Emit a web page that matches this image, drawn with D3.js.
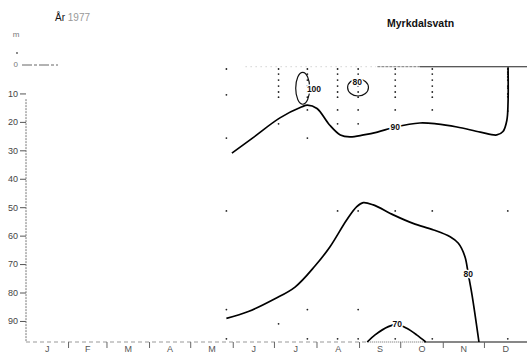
<!DOCTYPE html>
<html><head><meta charset="utf-8">
<script src="https://cdn.jsdelivr.net/npm/d3@7"></script>
<style>
html,body{margin:0;padding:0;background:#fff;}
svg{display:block;}
text{font-family:"Liberation Sans","DejaVu Sans",sans-serif;}
</style></head>
<body>
<svg id="chart" width="527" height="356"></svg>
<script>
// ---- data ----
const months = ["J","F","M","A","M","J","J","A","S","O","N","D"];
const monthStartDays = [0,31,59,90,120,151,181,212,243,273,304,334,365];
const depthTicks = [10,20,30,40,50,60,70,80,90];
const sampleDays = [146,184,205,227,242,269,296,351];
const sampleDepths = [
  [1.4,10.5,25.7,51.3,86,96.3],
  [1.4,3.2,5.3,7.4,9.5,11.3,20.7,91],
  [1.4,3.2,5.3,7.4,9.5,11.3,15.8,25.7,86,96.3],
  [1.4,3.2,5.3,7.4,9.5,11.3,15.8,20.7,51.3,96.3],
  [1.4,3.2,5.3,7.4,9.5,11.3,15.8,20.7,51.3,86,96.3],
  [1.4,3.2,5.3,7.4,9.5,11.3,15.8,51.3,96.3],
  [1.4,3.2,5.3,7.4,9.5,11.3,15.8,51.3,96.3],
  [1.4,2.5,3.2,4.2,5.3,7.4,8.1,10.2,11.2,16.2,51.3,96.3]
];
// isopleths [day, depth]
const iso90 = [[150,31],[165,25.7],[185,18.6],[201,14.7],[205,14.1],[212,15.3],[221,21],[229,24.6],[236,25.3],[246,24.6],[256,23.6],[269,21.8],[287,20.4],[299,20.7],[314,21.8],[331,23.6],[343,24.6],[347.5,23.4],[350.3,19.5],[351.2,13],[351.2,0.8]];
const iso80 = [[146,89.1],[162,86.7],[181,82.3],[196,78.1],[210.5,70.7],[221.5,63.9],[233.6,54.5],[241,49.8],[245.7,48.4],[253,49.2],[267.6,52.7],[282,55.7],[297,58],[309,60.4],[315,62.7],[319.8,67.4],[322.2,73.5],[325,81],[330,97.4]];
const iso70 = [[248.6,97.4],[254.3,94.9],[264,92],[270.5,91.2],[277.4,92.6],[284.6,94.9],[291.2,97.4]];
const loopDays = [201.6, 241.9];
const loopDepths = [8.2, 7.9];
const loopRadDays = [5.1, 7.6];
const loopRadDepths = [5.6, 3.0];
const isoLabels = ["90","80","70","100","80"];
const isoLabelDays = [269, 322.2, 270.5, 209.8, 241.3];
const isoLabelDepths = [21.8, 73.5, 91.0, 8.4, 6.0];

// ---- chart ----
const svg = d3.select("#chart");
const x = d3.scaleLinear().domain([0,365]).range([26,527]);
const y = d3.scaleLinear().domain([0,97.4]).range([65,342]);
const bottom = y(97.4);

// title
const t = svg.append("text").attr("x",55).attr("y",21).attr("font-size",10).attr("fill","#111");
t.append("tspan").text("År ");
t.append("tspan").attr("fill","#999").text("1977");
svg.append("text").attr("x",387).attr("y",27).attr("font-size",10.5).attr("font-weight","bold")
  .attr("fill","#111").text("Myrkdalsvatn");

// y axis
const yAxis = d3.axisLeft(y).tickValues(depthTicks).tickSize(6).tickPadding(2).tickFormat(d=>d);
const gy = svg.append("g").attr("transform","translate(26,0)").call(yAxis);
gy.select(".domain").remove();
gy.selectAll(".tick line").attr("stroke","#555");
gy.selectAll(".tick text").attr("font-size",9).attr("fill","#444")
  .style("font-family","'Liberation Sans','DejaVu Sans',sans-serif");
svg.append("line").attr("x1",26).attr("x2",26).attr("y1",y(12)).attr("y2",bottom)
  .attr("stroke","#777").attr("stroke-width",1).attr("stroke-dasharray","2,1");
svg.append("text").attr("x",18).attr("y",y(0)+2).attr("text-anchor","end").attr("font-size",8)
  .attr("fill","#777").text("0");
svg.append("text").attr("x",16).attr("y",37).attr("text-anchor","middle").attr("font-size",8)
  .attr("fill","#777").text("m");
svg.append("circle").attr("cx",17).attr("cy",53).attr("r",0.9).attr("fill","#555");
svg.append("line").attr("x1",22).attr("x2",58).attr("y1",y(0)).attr("y2",y(0))
  .attr("stroke","#666").attr("stroke-width",1).attr("stroke-dasharray","10,2,3,2");

// surface line in plot
svg.append("line").attr("x1",x(160)).attr("x2",x(255)).attr("y1",y(0.6)).attr("y2",y(0.6))
  .attr("stroke","#bbb").attr("stroke-dasharray","1,4");
svg.append("line").attr("x1",x(256)).attr("x2",x(287)).attr("y1",y(0.6)).attr("y2",y(0.6))
  .attr("stroke","#777").attr("stroke-dasharray","3,1");
svg.append("line").attr("x1",x(287)).attr("x2",x(365)).attr("y1",y(0.6)).attr("y2",y(0.6))
  .attr("stroke","#222").attr("stroke-width",1.1);

// x axis
svg.append("line").attr("x1",x(0)).attr("x2",x(249)).attr("y1",bottom).attr("y2",bottom)
  .attr("stroke","#999").attr("stroke-dasharray","4,3");
svg.append("line").attr("x1",x(249)).attr("x2",x(290)).attr("y1",bottom).attr("y2",bottom)
  .attr("stroke","#666").attr("stroke-dasharray","1,1");
svg.append("line").attr("x1",x(290)).attr("x2",x(365)).attr("y1",bottom).attr("y2",bottom)
  .attr("stroke","#111").attr("stroke-width",1.2);
svg.selectAll(".mtick").data(monthStartDays.slice(1,12)).enter().append("line")
  .attr("x1",d=>x(d)).attr("x2",d=>x(d)).attr("y1",bottom).attr("y2",bottom+6)
  .attr("stroke","#666");
svg.selectAll(".mlab").data(months).enter().append("text")
  .attr("x",(d,i)=>x((monthStartDays[i]+monthStartDays[i+1])/2))
  .attr("y",bottom+10).attr("text-anchor","middle").attr("font-size",9).attr("fill","#555").text(d=>d);

// sample dots
sampleDays.forEach((day,i)=>{
  svg.selectAll(null).data(sampleDepths[i]).enter().append("circle")
    .attr("cx",x(day)).attr("cy",d=>y(d)).attr("r",0.9).attr("fill","#222");
});

// isopleths
const line = d3.line().x(d=>x(d[0])).y(d=>y(d[1])).curve(d3.curveCatmullRom.alpha(0.5));
[iso90, iso80, iso70].forEach(d=>{
  svg.append("path").attr("d",line(d)).attr("fill","none").attr("stroke","#000").attr("stroke-width",1.7);
});
loopDays.forEach((d,i)=>{
  svg.append("ellipse").attr("cx",x(d)).attr("cy",y(loopDepths[i]))
    .attr("rx",x(d+loopRadDays[i])-x(d)).attr("ry",y(loopDepths[i]+loopRadDepths[i])-y(loopDepths[i]))
    .attr("fill","none").attr("stroke","#111").attr("stroke-width",1.2);
});
isoLabels.forEach((s,i)=>{
  svg.append("text").attr("x",x(isoLabelDays[i])).attr("y",y(isoLabelDepths[i])+3)
    .attr("text-anchor","middle").attr("font-size",8.5).attr("font-weight","bold")
    .attr("fill","#111").attr("stroke","#fff").attr("stroke-width",3).attr("paint-order","stroke").text(s);
});
</script>
</body></html>
